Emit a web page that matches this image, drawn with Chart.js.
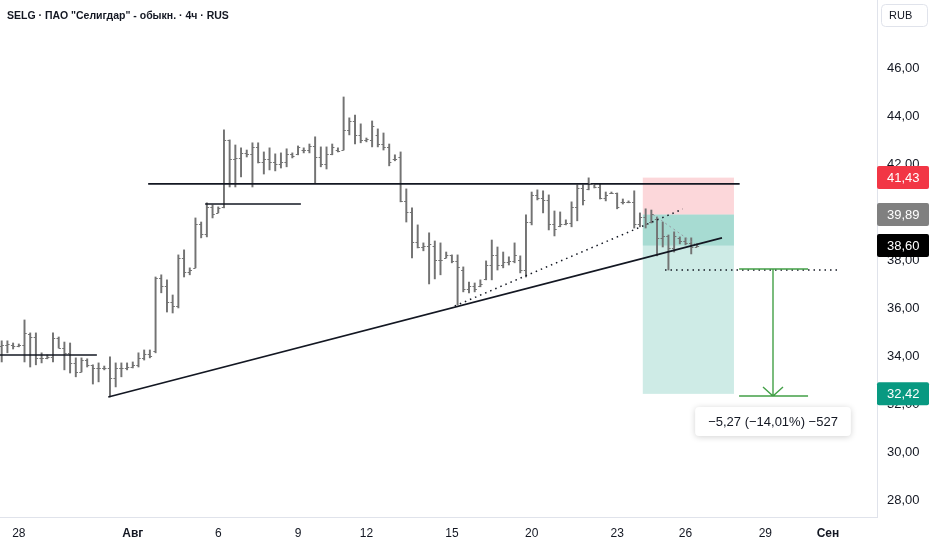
<!DOCTYPE html>
<html>
<head>
<meta charset="utf-8">
<script src="https://cdn.jsdelivr.net/npm/chart.js@4.4.1/dist/chart.umd.min.js"></script>
<style>
  html, body { margin: 0; padding: 0; background: #fff; }
  #wrap { width: 932px; height: 550px; }
</style>
</head>
<body>
<div id="wrap"><canvas id="chart" width="932" height="550"></canvas></div>
<script>
// SELG 4h bars
const opens = [
  34.4, 34.45, 34.45, 34.42, 34.45, 34.9, 34.79, 33.92, 33.92, 33.96,
  34.75, 34.33, 34.13, 33.71, 33.33, 33.83, 33.63, 33.5, 33.5, 33.5,
  33.08, 33.5, 33.5, 33.54, 33.63, 33.92, 34.1, 34.2, 37.25, 36.9,
  36.25, 36.1, 38.1, 37.5, 37.67, 39.5, 39.1, 40.2, 39.96, 40.2,
  43.0, 42.2, 42.25, 42.46, 42.42, 42.71, 42.08, 42.2, 42.1, 42.0,
  42.1, 42.4, 42.4, 42.6, 42.6, 42.75, 42.3, 42.0, 42.4, 42.6,
  42.6, 43.4, 43.8, 43.2, 43.0, 43.0, 43.2, 42.85, 42.7, 42.2,
  42.3, 40.45, 40.0, 38.75, 38.55, 38.6, 38.6, 38.0, 38.1, 38.2,
  37.95, 37.6, 36.8, 36.9, 36.9, 37.2, 37.8, 38.2, 37.8, 37.9,
  37.95, 38.0, 37.6, 39.6, 40.7, 40.6, 40.5, 39.5, 39.4, 39.5,
  39.55, 40.2, 41.0, 40.95, 41.15, 41.05, 40.6, 40.8, 40.78, 40.4,
  40.4, 40.4, 39.5, 39.8, 39.6, 39.7, 38.9, 39.0, 38.5, 38.9,
  38.8, 38.7, 38.55
];
const highs = [
  34.63, 34.63, 34.54, 34.5, 35.5, 34.96, 34.96, 34.13, 34.04, 34.96,
  34.79, 34.58, 34.54, 33.92, 33.92, 33.88, 33.63, 33.71, 33.58, 33.96,
  33.71, 33.71, 33.71, 33.75, 34.13, 34.25, 34.25, 37.29, 37.38, 37.17,
  36.54, 38.21, 38.42, 37.67, 39.75, 39.58, 40.38, 40.29, 40.21, 43.42,
  43.0, 42.79, 42.67, 42.58, 42.88, 42.88, 42.5, 42.67, 42.42, 42.46,
  42.63, 42.46, 42.75, 42.67, 42.83, 43.13, 42.71, 42.71, 42.83, 42.67,
  44.79, 43.92, 44.04, 43.67, 43.08, 43.79, 43.46, 43.29, 42.83, 42.38,
  42.5, 40.96, 40.17, 39.46, 38.71, 39.13, 38.79, 38.71, 38.33, 38.21,
  38.21, 37.71, 37.08, 37.04, 37.17, 37.96, 38.83, 38.54, 38.33, 38.13,
  38.71, 38.17, 39.88, 40.83, 40.92, 40.88, 40.71, 40.04, 40.0, 39.67,
  40.42, 41.13, 41.13, 41.42, 41.17, 41.17, 40.83, 40.83, 40.79, 40.54,
  40.46, 40.88, 39.96, 40.13, 40.08, 39.79, 39.58, 39.04, 39.17, 38.96,
  38.92, 38.92, 38.67
];
const lows = [
  33.75, 34.13, 34.29, 34.38, 33.75, 33.54, 33.63, 33.71, 33.88, 33.75,
  34.33, 33.42, 33.29, 33.13, 33.33, 33.54, 32.83, 32.92, 33.42, 32.29,
  32.71, 33.13, 33.42, 33.5, 33.54, 33.83, 33.92, 34.13, 36.63, 35.83,
  35.79, 36.0, 37.29, 37.38, 37.67, 38.92, 38.96, 39.75, 39.96, 40.17,
  41.04, 41.04, 41.46, 42.29, 41.04, 42.04, 41.58, 41.75, 41.71, 41.83,
  41.88, 42.25, 42.38, 42.46, 42.46, 41.21, 41.88, 41.79, 42.38, 42.5,
  42.58, 43.21, 42.83, 42.88, 42.92, 42.71, 42.71, 42.58, 41.92, 42.13,
  40.42, 39.58, 38.08, 38.5, 38.38, 37.0, 37.21, 37.38, 38.08, 37.88,
  36.13, 36.67, 36.63, 36.67, 36.88, 37.17, 37.17, 37.58, 37.67, 37.79,
  37.88, 37.46, 37.29, 39.46, 40.5, 39.96, 39.25, 39.0, 39.38, 39.46,
  39.38, 39.63, 40.29, 40.92, 41.0, 40.54, 40.46, 40.79, 40.13, 40.33,
  40.38, 39.33, 39.38, 39.33, 39.54, 38.17, 38.54, 37.58, 38.33, 38.67,
  38.63, 38.25, 38.54
];
const closes = [
  34.45, 34.5, 34.42, 34.45, 34.96, 34.79, 33.92, 33.92, 33.96, 34.75,
  34.33, 34.13, 33.71, 33.33, 33.83, 33.63, 33.5, 33.5, 33.5, 33.08,
  33.5, 33.5, 33.54, 33.63, 33.92, 34.1, 34.0, 37.25, 36.9, 36.25,
  36.1, 38.1, 37.5, 37.6, 39.5, 39.1, 40.2, 39.9, 40.15, 43.0,
  42.2, 42.25, 42.46, 42.42, 42.71, 42.08, 42.2, 42.1, 42.0, 42.1,
  42.4, 42.35, 42.7, 42.6, 42.75, 42.3, 42.0, 42.4, 42.7, 42.55,
  43.4, 43.8, 43.2, 43.0, 43.05, 43.6, 42.85, 42.7, 42.1, 42.2,
  40.45, 40.0, 38.75, 38.55, 38.6, 38.65, 38.0, 38.0, 38.2, 37.95,
  37.7, 36.8, 36.9, 36.8, 37.0, 37.8, 38.2, 37.8, 37.9, 37.95,
  38.2, 37.6, 39.6, 40.7, 40.6, 40.5, 39.5, 39.3, 39.5, 39.55,
  40.2, 41.0, 40.5, 41.2, 41.05, 40.6, 40.7, 40.8, 40.2, 40.4,
  40.4, 39.5, 39.8, 39.5, 39.9, 38.9, 39.0, 38.5, 39.0, 38.8,
  38.7, 38.55, 38.6
];

// time axis labels (bar index where each label sits)
const xTickIndex = [3, 23, 38, 52, 64, 79, 93, 108, 120, 134, 145];
const xTickLabels = ["28", "Авг", "6", "9", "12", "15", "20", "23", "26", "29", "Сен"];
const xTickBold = ["Авг", "Сен"];
const yTicks = [28, 30, 32, 34, 36, 38, 40, 42, 44, 46];

// drawings (bar index, price)
const resistanceLine = [{ x: 25.7, y: 41.17 }, { x: 129.5, y: 41.17 }];
const shelfLine = [{ x: 35.7, y: 40.33 }, { x: 52.5, y: 40.33 }];
const baseLine = [{ x: -0.3, y: 34.04 }, { x: 16.7, y: 34.04 }];
const trendLine = [{ x: 18.7, y: 32.29 }, { x: 126.4, y: 38.92 }];
const dottedTrend = [{ x: 79.5, y: 36.08 }, { x: 119.5, y: 40.12 }];
const dottedLevel = [{ x: 116.4, y: 37.58 }, { x: 146.7, y: 37.58 }];
const entryToLast = [{ x: 114.3, y: 39.89 }, { x: 122, y: 38.6 }];

// short position tool
const positionStart = 112.5, positionEnd = 128.5;
const stopPrice = 41.43, entryPrice = 39.89, targetPrice = 32.42, lastPrice = 38.60;

// price range measure
const measureStart = 129.4, measureEnd = 141.5, measureMid = 135.3;
const measureFrom = 37.62, measureTo = 32.35;
const measureText = "\u22125,27 (\u221214,01%) \u2212527";

const titleText = 'SELG · ПАО "Селигдар" - обыкн. · 4ч · RUS';
const barColor = "#737373";
const FONT = "'Liberation Sans', 'DejaVu Sans', sans-serif";

const fmt = v => v.toFixed(2).replace(".", ",");

function lineSet(points, opts) {
  return Object.assign({
    type: "line",
    data: points,
    borderColor: "#131722",
    borderWidth: 1.6,
    pointRadius: 0,
    fill: false,
    order: 1,
  }, opts || {});
}

// position box fills under the bars
const positionBox = {
  id: "positionBox",
  beforeDatasetsDraw(chart) {
    const { ctx, scales: { x, y } } = chart;
    const x0 = x.getPixelForValue(positionStart);
    const x1 = x.getPixelForValue(positionEnd);
    const band = (a, b, color) => {
      const ya = y.getPixelForValue(a), yb = y.getPixelForValue(b);
      ctx.fillStyle = color;
      ctx.fillRect(x0, Math.min(ya, yb), x1 - x0, Math.abs(yb - ya));
    };
    ctx.save();
    band(stopPrice, entryPrice, "rgba(242, 54, 69, 0.2)");
    band(entryPrice, targetPrice, "rgba(8, 153, 129, 0.2)");
    band(entryPrice, lastPrice, "rgba(8, 153, 129, 0.2)");
    ctx.restore();
  },
};

// open / close ticks of each bar
const ohlcTicks = {
  id: "ohlcTicks",
  afterDatasetsDraw(chart) {
    const { ctx, scales: { x, y } } = chart;
    ctx.save();
    ctx.strokeStyle = barColor;
    ctx.lineWidth = 1.2;
    ctx.beginPath();
    opens.forEach((o, i) => {
      const px = x.getPixelForValue(i);
      const yo = Math.round(y.getPixelForValue(o)) + 0.5;
      const yc = Math.round(y.getPixelForValue(closes[i])) + 0.5;
      ctx.moveTo(px - 2.2, yo); ctx.lineTo(px, yo);
      ctx.moveTo(px, yc); ctx.lineTo(px + 2.2, yc);
    });
    ctx.stroke();
    ctx.restore();
  },
};

// title, measure tool, price tags
const overlay = {
  id: "overlay",
  afterDraw(chart) {
    const { ctx, scales: { x, y } } = chart;
    ctx.save();

    ctx.fillStyle = "#131722";
    ctx.font = "bold 10.5px " + FONT;
    ctx.textAlign = "left";
    ctx.textBaseline = "middle";
    ctx.fillText(titleText, 7, 16);

    // currency box
    ctx.strokeStyle = "#e0e3eb";
    ctx.lineWidth = 1;
    ctx.beginPath();
    ctx.roundRect(881.5, 4.5, 46, 22, 4);
    ctx.stroke();
    ctx.fillStyle = "#131722";
    ctx.font = "11px " + FONT;
    ctx.fillText("RUB", 889, 15.5);

    // measure arrow
    const mx0 = x.getPixelForValue(measureStart), mx1 = x.getPixelForValue(measureEnd);
    const mxm = Math.round(x.getPixelForValue(measureMid));
    const my0 = Math.round(y.getPixelForValue(measureFrom));
    const my1 = Math.round(y.getPixelForValue(measureTo));
    ctx.strokeStyle = "#43a047";
    ctx.lineWidth = 1.4;
    ctx.beginPath();
    ctx.moveTo(mx0, my0); ctx.lineTo(mx1, my0);
    ctx.moveTo(mx0, my1); ctx.lineTo(mx1, my1);
    ctx.moveTo(mxm, my0); ctx.lineTo(mxm, my1);
    ctx.moveTo(mxm - 10, my1 - 9); ctx.lineTo(mxm, my1); ctx.lineTo(mxm + 10, my1 - 9);
    ctx.stroke();

    // measure label
    ctx.font = "13px " + FONT;
    const tw = ctx.measureText(measureText).width;
    const bw = tw + 26, bh = 29;
    const bx = mxm - bw / 2, by = my1 + 11;
    ctx.shadowColor = "rgba(0,0,0,0.18)";
    ctx.shadowBlur = 6;
    ctx.shadowOffsetY = 1;
    ctx.fillStyle = "#ffffff";
    ctx.beginPath();
    ctx.roundRect(bx, by, bw, bh, 4);
    ctx.fill();
    ctx.shadowColor = "transparent";
    ctx.fillStyle = "#131722";
    ctx.textAlign = "center";
    ctx.fillText(measureText, mxm, by + bh / 2 + 0.5);

    // price tags on the axis
    const tag = (price, color) => {
      const cy = y.getPixelForValue(price);
      ctx.fillStyle = color;
      ctx.beginPath();
      ctx.roundRect(877, cy - 11.5, 52, 23, 2);
      ctx.fill();
      ctx.fillStyle = "#ffffff";
      ctx.textAlign = "left";
      ctx.font = "13px " + FONT;
      ctx.fillText(fmt(price), 887, cy + 0.5);
    };
    tag(stopPrice, "#f23645");
    tag(entryPrice, "#808080");
    tag(lastPrice, "#000000");
    tag(targetPrice, "#089981");

    ctx.restore();
  },
};

new Chart(document.getElementById("chart"), {
  type: "bar",
  data: {
    datasets: [
      {
        type: "bar",
        data: highs.map((h, i) => ({ x: i, y: [lows[i], h] })),
        backgroundColor: barColor,
        borderWidth: 0,
        barThickness: 1.3,
        order: 2,
      },
      lineSet(resistanceLine),
      lineSet(shelfLine),
      lineSet(baseLine),
      lineSet(trendLine),
      lineSet(dottedTrend, { borderDash: [1.5, 4], borderWidth: 1.5 }),
      lineSet(dottedLevel, { borderDash: [1.5, 4], borderWidth: 1.5 }),
      lineSet(entryToLast, { borderColor: "#9598a1", borderDash: [2, 3], borderWidth: 1 }),
    ],
  },
  options: {
    responsive: false,
    animation: false,
    layout: { padding: 0 },
    plugins: {
      legend: { display: false },
      tooltip: { enabled: false },
    },
    scales: {
      x: {
        type: "linear",
        min: -0.3,
        max: 153.6,
        offset: false,
        grid: { display: false, drawTicks: false },
        border: { display: true, color: "#e0e3eb" },
        afterBuildTicks: axis => { axis.ticks = xTickIndex.map(v => ({ value: v })); },
        afterFit: scale => {
          scale.height = 33;
          scale.paddingLeft = 0; scale.paddingRight = 0;
        },
        ticks: {
          autoSkip: false,
          maxRotation: 0,
          padding: 9,
          color: "#131722",
          font: ctx => ({
            family: FONT,
            size: 12,
            weight: xTickBold.includes(xTickLabels[ctx.index]) ? "bold" : "normal",
          }),
          callback: (v, i) => xTickLabels[i],
        },
      },
      y: {
        position: "right",
        min: 27.29,
        max: 48.83,
        grid: { display: false, drawTicks: false },
        border: { display: true, color: "#e0e3eb" },
        afterBuildTicks: axis => { axis.ticks = yTicks.map(v => ({ value: v })); },
        afterFit: scale => {
          scale.width = 55;
          scale.paddingTop = 0; scale.paddingBottom = 0;
        },
        ticks: {
          padding: 10,
          color: "#131722",
          font: { family: FONT, size: 13 },
          callback: v => fmt(v),
        },
      },
    },
  },
  plugins: [positionBox, ohlcTicks, overlay],
});
</script>
</body>
</html>
